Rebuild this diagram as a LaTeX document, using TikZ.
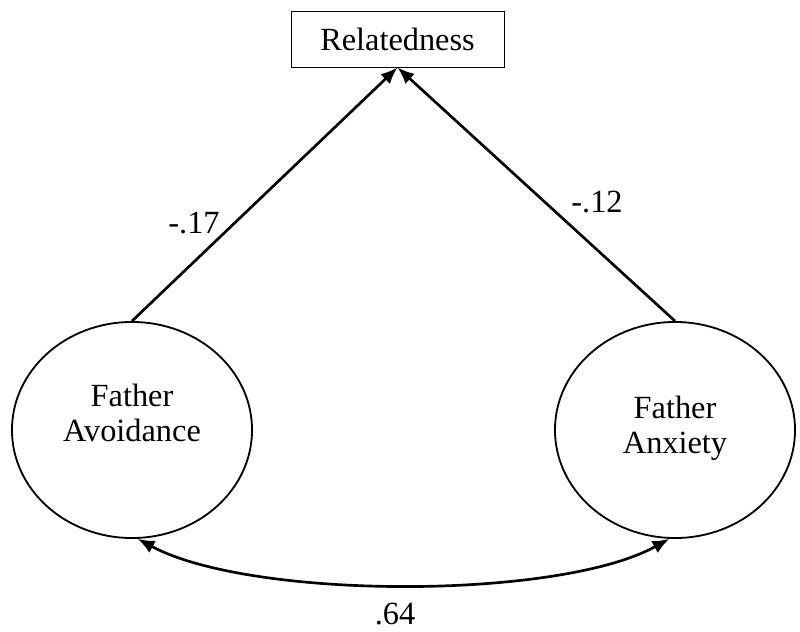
\documentclass[tikz,border=0pt]{standalone}
\usepackage{fontspec}
\setmainfont{Liberation Serif}
\usetikzlibrary{shapes.geometric,arrows.meta}

\begin{document}
\begin{tikzpicture}[x=0.025cm,y=0.025cm,
		every node/.style={font=\fontsize{23}{25}\selectfont},
		latent/.style={draw,ellipse,line width=1.3pt,minimum width=6cm,minimum height=5.4cm,inner sep=0pt},
		path/.style={line width=1.9pt,-{Latex[length=0.42cm,width=0.34cm]}},
		covar/.style={line width=1.9pt,{Latex[length=0.42cm,width=0.34cm]}-{Latex[length=0.42cm,width=0.34cm]}}]
		\useasboundingbox (0,0) rectangle (800,631);
		
		\node (rel) at (397.5,592) [draw,line width=0.6pt,minimum width=5.325cm,minimum height=1.4cm,inner sep=0pt] {Relatedness};
		\node (avoid) at (132,201) [latent] {};
		\node (anx) at (675,201) [latent] {};
		\node at (132,218) [align=center] {Father\\Avoidance};
		\node at (675,203) [align=center] {Father\\Anxiety};
		\node (b1) at (194,408) {-.17};
		\node (b2) at (597,429) {-.12};
		\node (r12) at (395,17) {.64};
		
		\draw[path] (avoid.north)--(rel.south);
		\draw[path] (anx.north)--(rel.south);
		\draw[covar] (avoid.-87) .. controls (251,31) and (559,31) .. (anx.-93);
	\end{tikzpicture}
\end{document}
